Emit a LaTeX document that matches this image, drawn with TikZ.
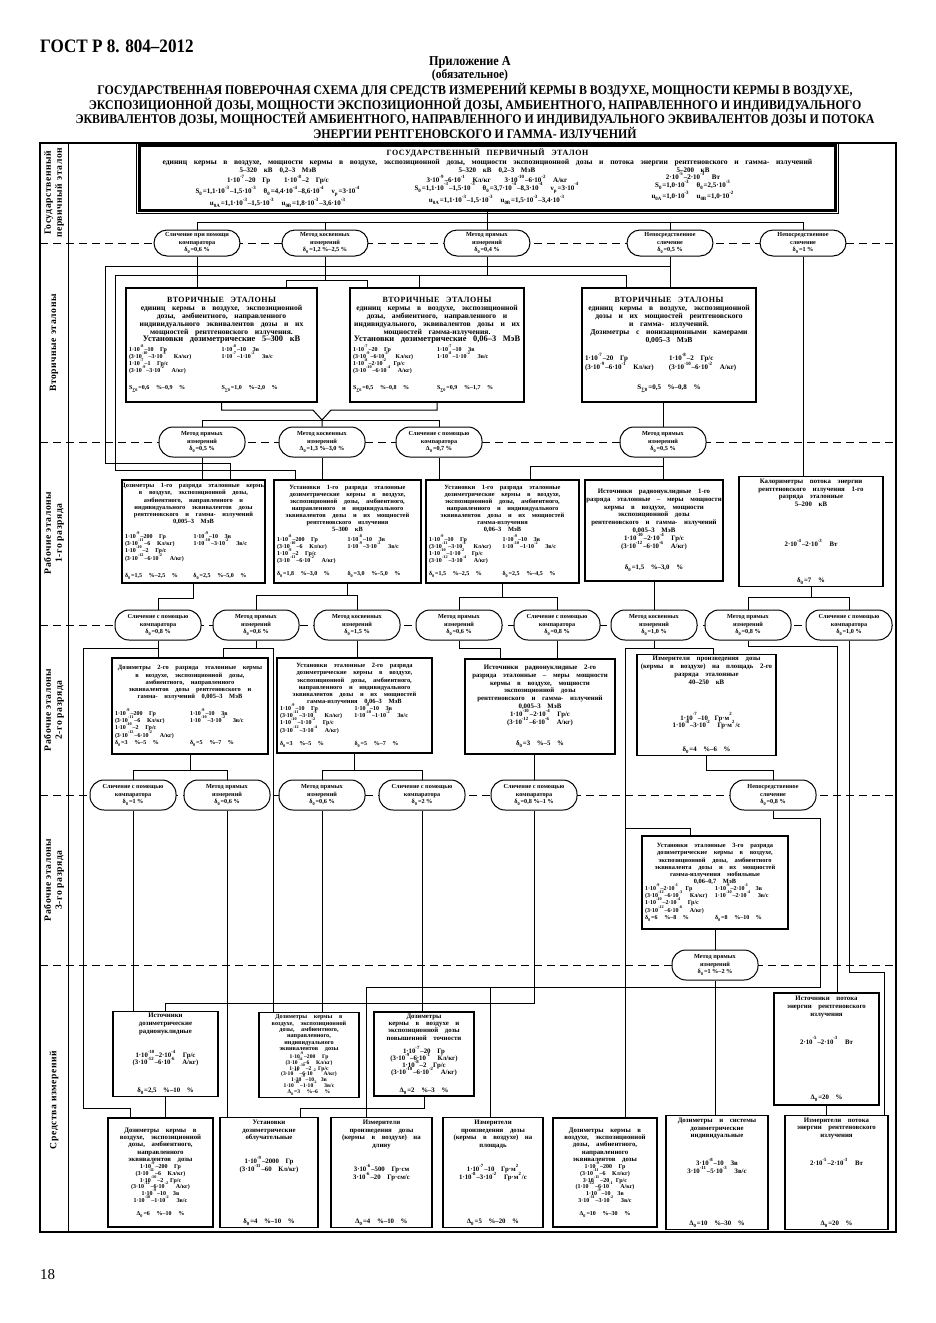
\documentclass[tikz,border=0pt]{standalone}
\usepackage{fontspec}
\setmainfont{Liberation Serif}
\newfontfamily\bxf{Liberation Serif}
\newfontfamily\sps[LetterSpace=6]{Liberation Serif}
\newfontfamily\ttl[FakeStretch=0.9]{Liberation Serif}
\newcommand{\pw}[1]{\textsuperscript{#1}}
\newcommand{\lo}[1]{\textsubscript{#1}}
\newcommand{\hd}{\sps\bfseries\fontsize{4}{5}\selectfont}
\newcommand{\dsb}{\fontsize{3.8}{3.95}\selectfont}
\newcommand{\dsc}{\fontsize{3.2}{3.55}\selectfont}
\newcommand{\dsd}{\fontsize{3.4}{3.9}\selectfont}
\newcommand{\sm}{\fontsize{3}{3.6}\selectfont}
\newcommand{\pl}[2]{\makebox[\boxc pt][l]{#1}\makebox[\boxc pt][l]{#2}}
\newcommand{\ebox}[6]{%
  \pgfmathsetmacro\boxw{(#4-#2)*0.5}%
  \pgfmathsetmacro\boxh{(#5-#3)*0.5}%
  \pgfmathsetmacro\boxt{(#4-#2)*0.5-3}%
  \pgfmathsetmacro\boxc{((#4-#2)*0.5-3)/2}%
  \node[ebox, minimum width=\boxw pt, minimum height=\boxh pt, text width=\boxt pt] (#1) at ({(#2+#4)/2},{(#3+#5)/2}) {\centering\leftskip=-3pt plus 1fil\rightskip=-3pt plus 1fil\lineskiplimit=-4pt\relax #6};}

\begin{document}
\begin{tikzpicture}[x=0.5pt, y=-0.5pt,
  ebox/.style={draw, line width=0.6pt, fill=white, align=center, inner sep=1pt, font=\bxf\bfseries},
  kbox/.style={draw, line width=0.5pt, fill=white, rounded corners=7pt, minimum width=43pt, minimum height=15pt, align=center, inner sep=0.5pt, font=\bxf\bfseries\fontsize{3.1}{3.6}\selectfont},
  wire/.style={line width=0.5pt},
  seprow/.style={line width=0.5pt, dash pattern=on 4pt off 2.5pt},
  band/.style={rotate=90, align=center, font=\sps\bfseries\fontsize{4.8}{5.5}\selectfont}]
\useasboundingbox (0,0) rectangle (936,1323);

\node[anchor=west, font=\ttl\bfseries\fontsize{9.5}{11}\selectfont] (gost) at (33,46) {ГОСТ Р 8. 804–2012};
\node[font=\ttl\bfseries\fontsize{6.8}{8}\selectfont] (pril) at (470,62) {Приложение А};
\node[font=\ttl\bfseries\fontsize{6.4}{8}\selectfont] (obz) at (470,75) {(обязательное)};
\node[align=center, font=\ttl\bfseries\fontsize{6.6}{7.25}\selectfont] (title) at (475,111) {ГОСУДАРСТВЕННАЯ ПОВЕРОЧНАЯ СХЕМА ДЛЯ СРЕДСТВ ИЗМЕРЕНИЙ КЕРМЫ В ВОЗДУХЕ, МОЩНОСТИ КЕРМЫ В ВОЗДУХЕ,\\ЭКСПОЗИЦИОННОЙ ДОЗЫ, МОЩНОСТИ ЭКСПОЗИЦИОННОЙ ДОЗЫ, АМБИЕНТНОГО, НАПРАВЛЕННОГО И ИНДИВИДУАЛЬНОГО\\ЭКВИВАЛЕНТОВ ДОЗЫ, МОЩНОСТЕЙ АМБИЕНТНОГО, НАПРАВЛЕННОГО И ИНДИВИДУАЛЬНОГО ЭКВИВАЛЕНТОВ ДОЗЫ И ПОТОКА\\ЭНЕРГИИ РЕНТГЕНОВСКОГО И ГАММА- ИЗЛУЧЕНИЙ};
\node[anchor=west, font=\fontsize{7.5}{9}\selectfont] (pg) at (33,1275) {18};

\draw[line width=0.7pt] (40,143) rectangle (896,1232);
\draw[wire] (68,143) -- (68,1232);
\foreach \y in {243,442,625,795,965}
  \draw[seprow] (40,\y) -- (896,\y);

\node[band] (lab0) at (54,193) {Государственный\\первичный эталон};
\node[band] (lab1) at (54,343) {Вторичные эталоны};
\node[band] (lab2) at (54,533) {Рабочие эталоны\\1-го разряда};
\node[band] (lab3) at (54,710) {Рабочие эталоны\\2-го разряда};
\node[band] (lab4) at (54,880) {Рабочие эталоны\\3-го разряда};
\node[band] (lab5) at (54,1100) {Средства измерений};

\ebox{pe}{140}{148}{835}{208}{%
{\hd ГОСУДАРСТВЕННЫЙ ПЕРВИЧНЫЙ ЭТАЛОН\par}
{\fontsize{3.8}{4.6}\selectfont единиц кермы в воздухе, мощности кермы в воздухе, экспозиционной дозы, мощности экспозиционной дозы и потока энергии рентгеновского и гамма- излучений\par}
{\fontsize{3.5}{3.8}\selectfont\makebox[\boxt pt][l]{\hspace{10pt}%
\parbox[t]{115pt}{\centering 5–320 кВ\quad 0,2–3 МэВ\\1·10\pw{-7}–20 Гр\qquad 1·10\pw{-8}–2 Гр/с\\S\lo{0}=1,1·10\pw{-3}–1,5·10\pw{-3}\quad θ\lo{0}=4,4·10\pw{-4}–8,6·10\pw{-4}\quad ν\lo{р}=3·10\pw{-4}\\u\lo{0A}=1,1·10\pw{-3}–1,5·10\pw{-3}\quad u\lo{0B}=1,8·10\pw{-3}–3,6·10\pw{-3}}%
\parbox[t]{104pt}{\centering 5–320 кВ\quad 0,2–3 МэВ\\3·10\pw{-9}–6·10\pw{-1} Кл/кг\qquad 3·10\pw{-10}–6·10\pw{-2} А/кг\\S\lo{0}=1,1·10\pw{-3}–1,5·10\pw{-3}\quad θ\lo{0}=3,7·10\pw{-4}–8,3·10\pw{-4}\quad ν\lo{р}=3·10\pw{-4}\\u\lo{0A}=1,1·10\pw{-3}–1,5·10\pw{-3}\quad u\lo{0B}=1,5·10\pw{-3}–3,4·10\pw{-3}}%
\parbox[t]{92pt}{\centering 5–200 кВ\\2·10\pw{-5}–2·10\pw{-3} Вт\\S\lo{0}=1,0·10\pw{-3}\quad θ\lo{0}=2,5·10\pw{-3}\\u\lo{0A}=1,0·10\pw{-3}\quad u\lo{0B}=1,0·10\pw{-2}}}\par}}
\draw[wire] ([xshift=-1.6pt,yshift=-1.6pt]pe.south west) rectangle ([xshift=1.6pt,yshift=1.6pt]pe.north east);
\draw[line width=1.4pt] (pe.south west) rectangle (pe.north east);

\node[kbox, minimum height=13pt, rounded corners=6.5pt] (k1a) at (197,243) {Сличение при помощи\\компаратора\\δ\lo{0}=0,6 \%};
\node[kbox, minimum height=13pt, rounded corners=6.5pt] (k1b) at (325,243) {Метод косвенных\\измерений\\δ\lo{0}=1,2 \%–2,5 \%};
\node[kbox, minimum height=13pt, rounded corners=6.5pt] (k1c) at (487,243) {Метод прямых\\измерений\\δ\lo{0}=0,4 \%};
\node[kbox, minimum height=13pt, rounded corners=6.5pt] (k1d) at (670,243) {Непосредственное\\сличение\\δ\lo{0}=0,5 \%};
\node[kbox, minimum height=13pt, rounded corners=6.5pt] (k1e) at (803,243) {Непосредственное\\сличение\\δ\lo{0}=1 \%};

\ebox{s1}{126}{288}{317}{402}{%
{\hd ВТОРИЧНЫЕ ЭТАЛОНЫ\par}
{\dsb единиц кермы в воздухе, экспозиционной\\дозы, амбиентного, направленного\\индивидуального эквивалентов дозы и их\\мощностей рентгеновского излучения.\\{\fontsize{4.2}{4.3}\selectfont Установки дозиметрические 5–300 кВ}\par}
\vspace{1pt}
{\sm \pl{1·10\pw{-8}–10 Гр}{1·10\pw{-8}–10 Зв}\\\pl{(3·10\pw{-10}–3·10\pw{-1} Кл/кг)}{1·10\pw{-7}–1·10\pw{-2} Зв/с}\\\pl{1·10\pw{-7}–1 Гр/с}{}\\\pl{(3·10\pw{-9}–3·10\pw{-2} А/кг)}{}\\[5pt]\pl{S\lo{∑0}=0,6 \%–0,9 \%}{S\lo{∑0}=1,0 \%–2,0 \%}\par}}
\ebox{s2}{350}{288}{524}{402}{%
{\hd ВТОРИЧНЫЕ ЭТАЛОНЫ\par}
{\dsb единиц кермы в воздухе, экспозиционной\\дозы, амбиентного, направленного и\\индивидуального, эквивалентов дозы и их\\мощностей гамма-излучения.\\{\fontsize{4.2}{4.3}\selectfont Установки дозиметрические 0,06–3 МэВ}\par}
\vspace{1pt}
{\sm \pl{1·10\pw{-7}–20 Гр}{1·10\pw{-7}–10 Зв}\\\pl{(3·10\pw{-9}–6·10\pw{-1} Кл/кг)}{1·10\pw{-8}–1·10\pw{-2} Зв/с}\\\pl{1·10\pw{-8}–2·10\pw{-2} Гр/с}{}\\\pl{(3·10\pw{-10}–6·10\pw{-4} А/кг)}{}\\[5pt]\pl{S\lo{∑0}=0,5 \%–0,8 \%}{S\lo{∑0}=0,9 \%–1,7 \%}\par}}
\ebox{s3}{582}{288}{756}{402}{%
{\hd ВТОРИЧНЫЕ ЭТАЛОНЫ\par}
{\dsb единиц кермы в воздухе, экспозиционной\\дозы и их мощностей рентгеновского\\и гамма- излучений.\\Дозиметры с ионизационными камерами\\0,005–3 МэВ\par}
\vspace{5pt}
{\fontsize{3.5}{4.2}\selectfont \pl{1·10\pw{-7}–20 Гр}{1·10\pw{-8}–2 Гр/с}\\\pl{(3·10\pw{-9}–6·10\pw{-1} Кл/кг)}{(3·10\pw{-10}–6·10\pw{-2} А/кг)}\\[6pt]S\lo{∑0}=0,5 \%–0,8 \%\par}}

\node[kbox] (k2a) at (202,442) {Метод прямых\\измерений\\δ\lo{0}=0,5 \%};
\node[kbox] (k2b) at (322,442) {Метод косвенных\\измерений\\Δ\lo{0}=1,3 \%–3,0 \%};
\node[kbox] (k2c) at (439,442) {Сличение с помощью\\компаратора\\Δ\lo{0}=0,7 \%};
\node[kbox] (k2d) at (663,442) {Метод прямых\\измерений\\δ\lo{0}=0,5 \%};

\ebox{r1a}{122}{480}{265}{583}{%
{\dsc Дозиметры 1-го разряда эталонные кермы\\в воздухе, экспозиционной дозы,\\амбиентного, направленного и\\индивидуального эквивалентов дозы\\рентгеновского и гамма- излучений\\0,005–3 МэВ\par}
\vspace{4pt}
{\sm \pl{1·10\pw{-9}–200 Гр}{1·10\pw{-9}–10 Зв}\\\pl{(3·10\pw{-11}–6 Кл/кг)}{1·10\pw{-10}–3·10\pw{-2} Зв/с}\\\pl{1·10\pw{-10}–2 Гр/с}{}\\\pl{(3·10\pw{-12}–6·10\pw{-2} А/кг)}{}\\[5pt]\pl{δ\lo{0}=1,5 \%–2,5 \%}{δ\lo{0}=2,5 \%–5,0 \%}\par}}
\ebox{r1b}{274}{480}{421}{583}{%
{\dsc Установки 1-го разряда эталонные\\дозиметрические кермы в воздухе,\\экспозиционной дозы, амбиентного,\\направленного и индивидуального\\эквивалентов дозы и их мощностей\\рентгеновского излучения\\5–300 кВ\par}
\vspace{1pt}
{\sm \pl{1·10\pw{-8}–200 Гр}{1·10\pw{-8}–10 Зв}\\\pl{(3·10\pw{-10}–6 Кл/кг)}{1·10\pw{-9}–3·10\pw{-2} Зв/с}\\\pl{1·10\pw{-9}–2 Гр/с}{}\\\pl{(3·10\pw{-11}–6·10\pw{-2} А/кг)}{}\\[3pt]\pl{δ\lo{0}=1,8 \%–3,0 \%}{δ\lo{0}=3,0 \%–5,0 \%}\par}}
\ebox{r1c}{426}{480}{579}{583}{%
{\dsc Установки 1-го разряда эталонные\\дозиметрические кермы в воздухе,\\экспозиционной дозы, амбиентного,\\направленного и индивидуального\\эквивалентов дозы и их мощностей\\гамма-излучения\\0,06–3 МэВ\par}
\vspace{1pt}
{\sm \pl{1·10\pw{-9}–10 Гр}{1·10\pw{-9}–10 Зв}\\\pl{(3·10\pw{-11}–3·10\pw{-1} Кл/кг)}{1·10\pw{-10}–1·10\pw{-2} Зв/с}\\\pl{1·10\pw{-10}–1·10\pw{-2} Гр/с}{}\\\pl{(3·10\pw{-12}–3·10\pw{-4} А/кг)}{}\\[3pt]\pl{δ\lo{0}=1,5 \%–2,5 \%}{δ\lo{0}=2,5 \%–4,5 \%}\par}}
\ebox{r1d}{585}{480}{723}{581}{%
{\dsd Источники радионуклидные 1-го\\разряда эталонные – меры мощности\\кермы в воздухе, мощности\\экспозиционной дозы\\рентгеновского и гамма- излучений\\0,005–3 МэВ\\1·10\pw{-10}–2·10\pw{-4} Гр/с\\(3·10\pw{-12}–6·10\pw{-6} А/кг)\\[7pt]δ\lo{0}=1,5 \%–3,0 \%\par}}
\ebox{r1e}{739}{480}{883}{583}{%
{\dsd Калориметры потока энергии\\рентгеновского излучения 1-го\\разряда эталонные\\5–200 кВ\\[16pt]2·10\pw{-4}–2·10\pw{-3} Вт\\[14pt]δ\lo{0}=7 \%\par}}

\node[kbox] (k3a) at (158,625) {Сличение с помощью\\компаратора\\δ\lo{0}=0,8 \%};
\node[kbox] (k3b) at (256,625) {Метод прямых\\измерений\\δ\lo{0}=0,6 \%};
\node[kbox] (k3c) at (357,625) {Метод косвенных\\измерений\\δ\lo{0}=1,5 \%};
\node[kbox] (k3d) at (459,625) {Метод прямых\\измерений\\δ\lo{0}=0,6 \%};
\node[kbox] (k3e) at (557,625) {Сличение с помощью\\компаратора\\δ\lo{0}=0,8 \%};
\node[kbox] (k3f) at (654,625) {Метод косвенных\\измерений\\δ\lo{0}=1,0 \%};
\node[kbox] (k3g) at (748,625) {Метод прямых\\измерений\\δ\lo{0}=0,8 \%};
\node[kbox] (k3h) at (849,625) {Сличение с помощью\\компаратора\\δ\lo{0}=1,0 \%};

\ebox{r2a}{112}{658}{268}{754}{%
{\dsc Дозиметры 2-го разряда эталонные кермы\\в воздухе, экспозиционной дозы,\\амбиентного, направленного\\эквивалентов дозы рентгеновского и\\гамма- излучений 0,005–3 МэВ\par}
\vspace{5pt}
{\sm \pl{1·10\pw{-9}–200 Гр}{1·10\pw{-9}–10 Зв}\\\pl{(3·10\pw{-11}–6 Кл/кг)}{1·10\pw{-10}–3·10\pw{-2} Зв/с}\\\pl{1·10\pw{-10}–2 Гр/с}{}\\\pl{(3·10\pw{-12}–6·10\pw{-2} А/кг)}{}\\\pl{δ\lo{0}=3 \%–5 \%}{δ\lo{0}=5 \%–7 \%}\par}}
\ebox{r2b}{277}{658}{432}{753}{%
{\dsc Установки эталонные 2-го разряда\\дозиметрические кермы в воздухе,\\экспозиционной дозы, амбиентного,\\направленного и индивидуального\\эквивалентов дозы и их мощностей\\гамма-излучения 0,06–3 МэВ\par}
{\sm \pl{1·10\pw{-9}–10 Гр}{1·10\pw{-9}–10 Зв}\\\pl{(3·10\pw{-11}–3·10\pw{-1} Кл/кг)}{1·10\pw{-10}–1·10\pw{-2} Зв/с}\\\pl{1·10\pw{-10}–1·10\pw{-2} Гр/с}{}\\\pl{(3·10\pw{-12}–3·10\pw{-4} А/кг)}{}\\[3pt]\pl{δ\lo{0}=3 \%–5 \%}{δ\lo{0}=5 \%–7 \%}\par}}
\ebox{r2c}{465}{659}{615}{754}{%
{\dsd Источники радионуклидные 2-го\\разряда эталонные – меры мощности\\кермы в воздухе, мощности\\экспозиционной дозы\\рентгеновского и гамма- излучений\\0,005–3 МэВ\\1·10\pw{-10}–2·10\pw{-4} Гр/с\\(3·10\pw{-12}–6·10\pw{-6} А/кг)\\[7pt]δ\lo{0}=3 \%–5 \%\par}}
\ebox{r2d}{637}{658}{776}{752}{%
{\dsd Измерители произведения дозы\\(кермы в воздухе) на площадь 2-го\\разряда эталонные\\40–250 кВ\\[14pt]1·10\pw{-7}–10 Гр·м\pw{2}\\1·10\pw{-8}–3·10\pw{-2} Гр·м\pw{2}/с\\[8pt]δ\lo{0}=4 \%–6 \%\par}}

\node[kbox] (k4a) at (133,795) {Сличение с помощью\\компаратора\\δ\lo{0}=1 \%};
\node[kbox] (k4b) at (227,795) {Метод прямых\\измерений\\δ\lo{0}=0,6 \%};
\node[kbox] (k4c) at (322,795) {Метод прямых\\измерений\\δ\lo{0}=0,6 \%};
\node[kbox] (k4d) at (422,795) {Сличение с помощью\\компаратора\\δ\lo{0}=2 \%};
\node[kbox] (k4e) at (534,795) {Сличение с помощью\\компаратора\\δ\lo{0}=0,8 \%–1 \%};
\node[kbox] (k4f) at (773,795) {Непосредственное\\сличение\\δ\lo{0}=0,8 \%};

\ebox{r3}{642}{836}{788}{929}{%
{\dsc Установки эталонные 3-го разряда\\дозиметрические кермы в воздухе,\\экспозиционной дозы, амбиентного\\эквивалента дозы и их мощностей\\гамма-излучения мобильные\\0,06–0,7 МэВ\par}
{\sm \pl{1·10\pw{-9}–2·10\pw{-1} Гр}{1·10\pw{-9}–2·10\pw{-1} Зв}\\\pl{(3·10\pw{-12}–6·10\pw{-3} Кл/кг)}{1·10\pw{-10}–2·10\pw{-4} Зв/с}\\\pl{1·10\pw{-10}–2·10\pw{-4} Гр/с}{}\\\pl{(3·10\pw{-12}–6·10\pw{-6} А/кг)}{}\\\pl{δ\lo{0}=6 \%–8 \%}{δ\lo{0}=8 \%–10 \%}\par}}

\node[kbox] (k5) at (715,965) {Метод прямых\\измерений\\δ\lo{0}=1 \%–2 \%};

\ebox{ip}{774}{993}{879}{1105}{%
{\dsd Источники потока\\энергии рентгеновского\\излучения\\[10pt]2·10\pw{-5}–2·10\pw{-3} Вт\\[24pt]Δ\lo{0}=20 \%\par}}
\ebox{m1}{113}{1013}{218}{1095}{%
{\dsd Источники\\дозиметрические\\радионуклидные\\[8pt]1·10\pw{-10}–2·10\pw{-4} Гр/с\\(3·10\pw{-12}–6·10\pw{-6} А/кг)\\[10pt]δ\lo{0}=2,5 \%–10 \%\par}}
\ebox{m2}{259}{1013}{359}{1097}{%
{\fontsize{3.1}{3.2}\selectfont Дозиметры кермы в\\воздухе, экспозиционной\\дозы, амбиентного,\\направленного,\\индивидуального\\эквивалентов дозы\par}
\vspace{1pt}
{\fontsize{2.8}{2.9}\selectfont 1·10\pw{-9}–200 Гр\\(3·10\pw{-11}–6 Кл/кг)\\1·10\pw{-10}–2 Гр/с\\(3·10\pw{-12}–6·10\pw{-2} А/кг)\\1·10\pw{-9}–10 Зв\\1·10\pw{-10}–1·10\pw{-2} Зв/с\\Δ\lo{0}=3 \%–6 \%\par}}
\ebox{m3}{374}{1013}{474}{1095}{%
{\fontsize{3.4}{3.6}\selectfont Дозиметры\\кермы в воздухе и\\экспозиционной дозы\\повышенной точности\\[3pt]1·10\pw{-7}–20 Гр\\(3·10\pw{-9}–6·10\pw{-1} Кл/кг)\\1·10\pw{-8}–2 Гр/с\\(3·10\pw{-10}–6·10\pw{-2} А/кг)\\[5pt]Δ\lo{0}=2 \%–3 \%\par}}

\ebox{b1}{108}{1118}{213}{1227}{%
{\fontsize{3.4}{3.7}\selectfont Дозиметры кермы в\\воздухе, экспозиционной\\дозы, амбиентного,\\направленного\\эквивалентов дозы\par}
{\fontsize{3}{3.4}\selectfont 1·10\pw{-9}–200 Гр\\(3·10\pw{-11}–6 Кл/кг)\\1·10\pw{-10}–2 Гр/с\\(3·10\pw{-12}–6·10\pw{-2} А/кг)\\1·10\pw{-9}–10 Зв\\1·10\pw{-10}–1·10\pw{-2} Зв/с\\[3pt]Δ\lo{0}=6 \%–10 \%\par}}
\ebox{b2}{220}{1118}{318}{1227}{%
{\dsd Установки\\дозиметрические\\облучательные\\[8pt]1·10\pw{-9}–2000 Гр\\(3·10\pw{-11}–60 Кл/кг)\\[22pt]δ\lo{0}=4 \%–10 \%\par}}
\ebox{b3}{331}{1118}{432}{1227}{%
{\dsd Измерители\\произведения дозы\\(кермы в воздухе) на\\длину\\[8pt]3·10\pw{-6}–500 Гр·см\\3·10\pw{-6}–20 Гр·см/с\\[18pt]Δ\lo{0}=4 \%–10 \%\par}}
\ebox{b4}{443}{1118}{543}{1227}{%
{\dsd Измерители\\произведения дозы\\(кермы в воздухе) на\\площадь\\[8pt]1·10\pw{-7}–10 Гр·м\pw{2}\\1·10\pw{-8}–3·10\pw{-2} Гр·м\pw{2}/с\\[18pt]Δ\lo{0}=5 \%–20 \%\par}}
\ebox{b5}{553}{1118}{657}{1227}{%
{\fontsize{3.4}{3.7}\selectfont Дозиметры кермы в\\воздухе, экспозиционной\\дозы, амбиентного,\\направленного\\эквивалентов дозы\par}
{\fontsize{3}{3.4}\selectfont 1·10\pw{-9}–200 Гр\\(3·10\pw{-11}–6 Кл/кг)\\3·10\pw{-11}–20 Гр/с\\(1·10\pw{-12}–6·10\pw{-1} А/кг)\\1·10\pw{-9}–10 Зв\\3·10\pw{-11}–3·10\pw{-2} Зв/с\\[3pt]Δ\lo{0}=10 \%–30 \%\par}}
\ebox{b6}{666}{1118}{768}{1227}{%
{\dsd Дозиметры и системы\\дозиметрические\\индивидуальные\\[10pt]3·10\pw{-8}–10 Зв\\3·10\pw{-11}–5·10\pw{-3} Зв/с\\[22pt]Δ\lo{0}=10 \%–30 \%\par}}
\ebox{b7}{785}{1118}{888}{1227}{%
{\dsd Измерители потока\\энергии рентгеновского\\излучения\\[10pt]2·10\pw{-5}–2·10\pw{-3} Вт\\[26pt]Δ\lo{0}=20 \%\par}}

\coordinate (v1) at (322,420);
\coordinate (j1) at (625,828);
\coordinate (j2) at (490,987);

\draw[wire] (pe.south) -- (pe.south |- 0,222);
\draw[wire] (k1a.north) |- (k1e.north |- 0,222) -- (k1e.north);
\foreach \k in {k1b,k1c,k1d}
  \draw[wire] (\k.north) -- (\k.north |- 0,222);

\draw[wire] (k1a.south) -- (s1.north -| k1a.south);
\draw[wire] (k1b.south) -- (k1b.south |- 0,280);
\draw[wire] (s1.north -| 286,0) |- (367,280) -- (s2.north -| 367,0);
\draw[wire] (k1c.south) -- (k1c.south |- 0,275);
\draw[wire] (s2.north -| 419,0) -- (419,275);
\draw[wire] (s3.north -| 626,0) |- (115,275) |- (295,470) -- (r1b.north -| 295,0);
\draw[wire] (k1d.south) -- (s3.north -| k1d.south);
\draw[wire] (k1d.south |- 0,266) -| (105,463) -| (r1a.north -| 230,0);
\draw[wire] (k1e.south) -- (r1e.north -| k1e.south);

\draw[wire] (s1.south) |- (313,410) -- (v1);
\draw[wire] (s2.south) |- (331,410) -- (v1) -- (k2b.north);
\draw[wire] (k2a.north) |- (k2c.north |- 0,420) -- (k2c.north);
\draw[wire] (s3.south -| k2d.north) -- (k2d.north);

\draw[wire] (k2a.south) -- (r1a.north -| k2a.south);
\draw[wire] (k2b.south) -- (r1b.north -| k2b.south);
\draw[wire] (k2c.south) -- (r1c.north -| k2c.south);
\draw[wire] (k2d.south) -- (r1d.north -| k2d.south);
\draw[wire] (k2d.south |- 0,466) -| (r1c.north -| 530,0);

\draw[wire] (r1a.south) |- (k3a.north |- 0,598) -- (k3a.north);
\draw[wire] (r1b.south) -- (r1b.south |- 0,595);
\draw[wire] (k3b.north) |- (k3c.north |- 0,595) -- (k3c.north);
\draw[wire] (r1c.south) -- (r1c.south |- 0,597);
\draw[wire] (k3d.north) |- (k3e.north |- 0,597) -- (k3e.north);
\draw[wire] (r1d.south -| k3f.north) -- (k3f.north);
\draw[wire] (r1e.south) -- (r1e.south |- 0,597);
\draw[wire] (k3g.north) |- (k3h.north |- 0,597) -- (k3h.north);

\draw[wire] (k3a.south) -- (r2a.north -| k3a.south);
\draw[wire] (k3a.south |- 0,648) -| (83,1108) -| (b1.north -| 130,0);
\draw[wire] (k3b.south) -- (k3b.south |- 0,648);
\draw[wire] (r2a.north -| 223,0) |- (273,648) -- (m2.north -| 273,0);
\draw[wire] (k3c.south) -- (r2b.north -| k3c.south);
\draw[wire] (k3d.south) |- (500,648) -- (r2c.north -| 500,0);
\draw[wire] (k3e.south) -- (r2c.north -| k3e.south);
\draw[wire] (k3f.south) -- (k3f.south |- 0,648);
\draw[wire] (r2d.north -| 713,0) |- (625,648) -- (b5.north -| 625,0);
\draw[wire] (j1) -| (r3.north -| 690,0);
\draw[wire] (k3g.south) |- (837,646) -- (ip.north -| 837,0);
\draw[wire] (k3h.south) |- (884,972) -- (b7.north -| 884,0);

\draw[wire] (r2a.south) -- (r2a.south |- 0,770);
\draw[wire] (k4a.north) |- (k4b.north |- 0,770) -- (k4b.north);
\draw[wire] (r2b.south) -- (r2b.south |- 0,770);
\draw[wire] (k4c.north) |- (k4d.north |- 0,770) -- (k4d.north);
\draw[wire] (r2c.south -| k4e.north) -- (k4e.north);
\draw[wire] (r2d.south) |- (k4f.north |- 0,770) -- (k4f.north);

\draw[wire] (k4a.south) -- (m1.north -| k4a.south);
\draw[wire] (k4b.south) -- (b2.north -| k4b.south);
\draw[wire] (k4c.south) -- (m2.north -| k4c.south);
\draw[wire] (k4d.south) -- (m3.north -| k4d.south);
\draw[wire] (k4e.south) |- (165,1003) -- (m1.north -| 165,0);
\draw[wire] (k4f.south) |- (820,818) |- (366,987) -- (b3.north -| 366,0);
\draw[wire] (j2) -- (b4.north -| j2);
\draw[wire] (r3.south -| k5.north) -- (k5.north);
\draw[wire] (k5.south) -- (b6.north -| k5.south);
\draw[wire] (ip.south) -- (b7.north -| ip.south);
\draw[wire] (m1.south -| 165,0) -- (b1.north -| 165,0);
\draw[wire] (m3.south) |- (300,1108) -- (b2.north -| 300,0);
\end{tikzpicture}
\end{document}
